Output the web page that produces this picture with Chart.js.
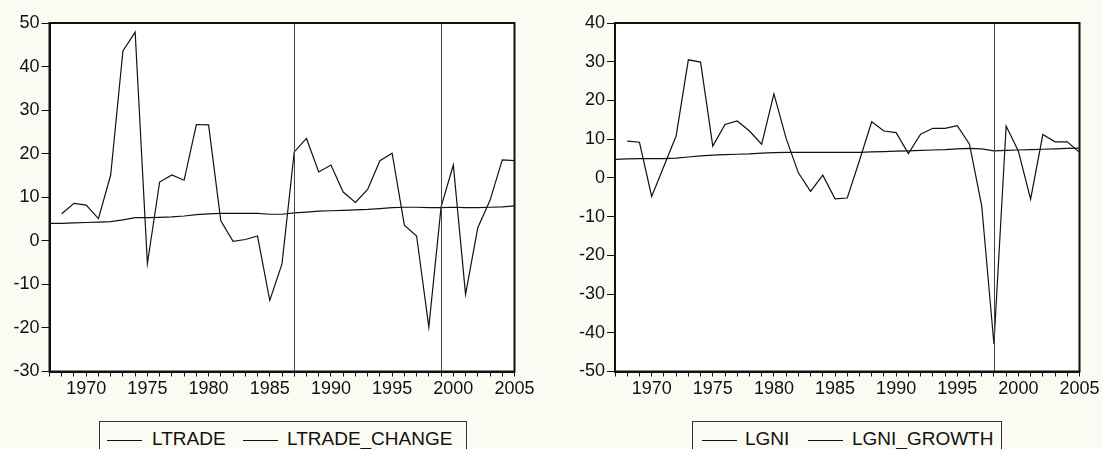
<!DOCTYPE html>
<html>
<head>
<meta charset="utf-8">
<script src="https://cdn.jsdelivr.net/npm/chart.js@4/dist/chart.umd.min.js"></script>
<style>
  html, body { margin: 0; padding: 0; background: #fbfbf4; }
  body { width: 1103px; height: 449px; position: relative; overflow: hidden;
         font-family: "Liberation Sans", Arial, sans-serif; }
  canvas { position: absolute; top: 0; }
  #trade-chart { left: 0; }
  #gni-chart { left: 560px; }
  .legend { position: absolute; top: 421px; height: 40px; border: 1px solid #333;
            background: #fbfbf4; font-size: 19px; color: #111; }
  .legend .sample { position: absolute; top: 18px; width: 35px; border-top: 1px solid #111; }
  .legend .label { position: absolute; top: 7px; line-height: 20px; }
</style>
</head>
<body>
<canvas id="trade-chart" width="540" height="420"></canvas>
<canvas id="gni-chart" width="543" height="420"></canvas>

<div class="legend" style="left:99px; width:366px;">
  <div class="sample" style="left:7px;"></div><div class="label" style="left:52px;">LTRADE</div>
  <div class="sample" style="left:143px;"></div><div class="label" style="left:187px;">LTRADE_CHANGE</div>
</div>
<div class="legend" style="left:692px; width:308px;">
  <div class="sample" style="left:9px;"></div><div class="label" style="left:52px;">LGNI</div>
  <div class="sample" style="left:115px;"></div><div class="label" style="left:159px;">LGNI_GROWTH</div>
</div>

<script>
const years = [];
for (let y = 1967; y <= 2005; y++) years.push(y);

// left panel
const ltrade = [4.0, 4.0, 4.1, 4.2, 4.3, 4.4, 4.8, 5.3, 5.3, 5.4, 5.5, 5.7, 6.0, 6.2, 6.3, 6.3, 6.3, 6.3,
  6.1, 6.1, 6.4, 6.6, 6.8, 6.9, 7.0, 7.1, 7.2, 7.4, 7.6, 7.7, 7.7, 7.6, 7.6, 7.7, 7.6, 7.6, 7.7, 7.8, 8.0];
const ltradeChange = [null, 6.2, 8.6, 8.2, 5.1, 15.1, 43.6, 47.9, -5.2, 13.5, 15.1, 13.9, 26.7, 26.6, 4.6,
  -0.1, 0.3, 1.1, -13.7, -5.3, 20.4, 23.5, 15.8, 17.4, 11.2, 8.8, 11.8, 18.4, 20.1, 3.6, 1.1, -19.8,
  7.8, 17.4, -12.3, 3.0, 9.3, 18.6, 18.4];
const tradeBreaks = [1987, 1999];

// right panel
const lgni = [4.8, 4.9, 5.0, 5.0, 5.0, 5.1, 5.4, 5.7, 5.9, 6.0, 6.1, 6.2, 6.4, 6.5, 6.6, 6.6, 6.6, 6.6,
  6.6, 6.6, 6.6, 6.7, 6.8, 6.9, 7.0, 7.1, 7.2, 7.3, 7.5, 7.6, 7.5, 7.0, 7.1, 7.2, 7.3, 7.4, 7.5, 7.6, 7.7];
const lgniGrowth = [null, 9.5, 9.2, -4.8, 3.0, 10.8, 30.5, 29.9, 8.2, 13.8, 14.7, 12.1, 8.7, 21.7, 10.2,
  1.3, -3.5, 0.7, -5.4, -5.2, 4.5, 14.5, 12.1, 11.7, 6.3, 11.3, 12.8, 12.8, 13.5, 8.7, -7.2, -42.9,
  13.4, 6.9, -5.5, 11.2, 9.3, 9.3, 6.6];
const gniBreaks = [1998];

const fontSpec = { family: '"Liberation Sans", Arial, sans-serif', size: 18 };

// white plot area, box around it and the vertical break lines
const framePlugin = {
  id: 'frame',
  beforeDraw(chart) {
    const { ctx, chartArea: a } = chart;
    ctx.save();
    ctx.fillStyle = '#ffffff';
    ctx.fillRect(a.left, a.top, a.right - a.left, a.bottom - a.top);
    ctx.restore();
  },
  afterDatasetsDraw(chart, args, opts) {
    const { ctx, chartArea: a, scales } = chart;
    ctx.save();
    ctx.strokeStyle = '#444';
    ctx.lineWidth = 1;
    (opts.breaks || []).forEach((yr) => {
      const x = Math.round(scales.x.getPixelForValue(yr)) + 0.5;
      ctx.beginPath();
      ctx.moveTo(x, a.top);
      ctx.lineTo(x, a.bottom);
      ctx.stroke();
    });
    ctx.strokeStyle = '#111';
    ctx.lineWidth = 2;
    ctx.strokeRect(a.left, a.top, a.right - a.left, a.bottom - a.top);
    ctx.restore();
  },
};

function makeChart(id, level, change, breaks, yMin, yMax, axisWidth, padRight) {
  const pts = (arr) => years.map((yr, i) => ({ x: yr, y: arr[i] }));
  return new Chart(document.getElementById(id), {
    type: 'line',
    data: {
      datasets: [
        { data: pts(level), borderColor: '#111', borderWidth: 1.2, pointRadius: 0, tension: 0 },
        { data: pts(change), borderColor: '#111', borderWidth: 1.2, pointRadius: 0, tension: 0 },
      ],
    },
    options: {
      responsive: false,
      animation: false,
      layout: { padding: { top: 23, right: padRight, left: 0, bottom: 0 } },
      plugins: {
        legend: { display: false },
        tooltip: { enabled: false },
        frame: { breaks },
      },
      scales: {
        x: {
          type: 'linear',
          min: 1967,
          max: 2005,
          afterFit: (s) => { s.height = 48.5; },
          afterBuildTicks: (s) => { s.ticks = years.map((v) => ({ value: v })); },
          ticks: {
            autoSkip: false,
            maxRotation: 0,
            color: '#111',
            font: fontSpec,
            padding: 2,
            callback: (v) => (v % 5 === 0 ? String(v) : ''),
          },
          grid: { drawOnChartArea: false, color: '#111', tickLength: 5, tickWidth: 1 },
          border: { color: '#111', width: 2 },
        },
        y: {
          min: yMin,
          max: yMax,
          afterFit: (s) => { s.width = axisWidth; },
          ticks: { stepSize: 10, color: '#111', font: fontSpec, padding: 2 },
          grid: { drawOnChartArea: false, color: '#111', tickLength: 8, tickWidth: 1 },
          border: { color: '#111', width: 2 },
        },
      },
    },
    plugins: [framePlugin],
  });
}

makeChart('trade-chart', ltrade, ltradeChange, tradeBreaks, -30, 50, 49.5, 25.5);
makeChart('gni-chart', lgni, lgniGrowth, gniBreaks, -50, 40, 55, 23.5);
</script>
</body>
</html>
